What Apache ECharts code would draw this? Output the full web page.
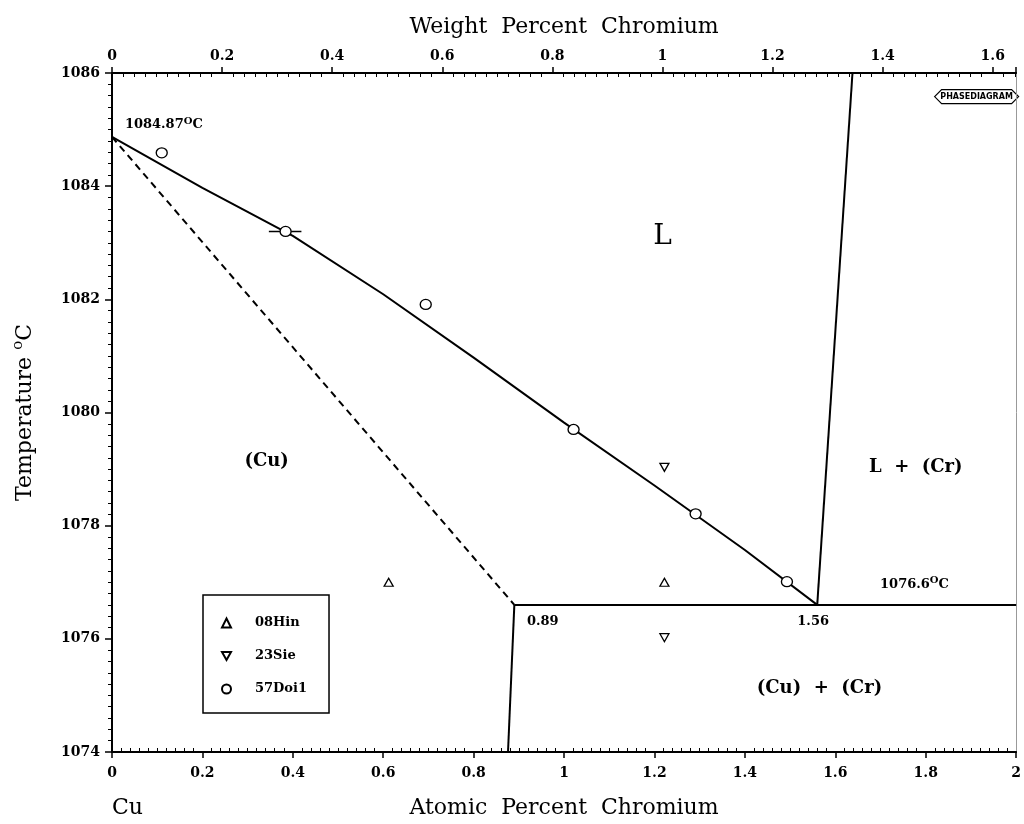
<!DOCTYPE html>
<html>
<head>
<meta charset="utf-8">
<script src="https://cdn.jsdelivr.net/npm/echarts@6/dist/echarts.min.js"></script>
<style>
  html, body { margin: 0; padding: 0; background: #fff; }
  #chart { width: 1024px; height: 824px; }
</style>
</head>
<body>
<div id="chart"></div>
<script>
// Cu-Cr phase diagram, Cu-rich corner: composition in at.% Cr (bottom) and wt.% Cr (top)

// Axis ranges
const atomicRange = [0, 2];
const weightRange = [0, 1.6425];   // wt.% Cr equivalent of 0..2 at.% Cr
const tempRange = [1074, 1086];

// Phase boundaries [at.% Cr, temperature °C]
const liquidusCu = [
  [0, 1084.87], [0.2, 1083.97], [0.4, 1083.12], [0.6, 1082.09], [0.8, 1080.97],
  [1.0, 1079.82], [1.2, 1078.71], [1.4, 1077.57], [1.56, 1076.6]
];
const solidusCu = [[0, 1084.87], [0.89, 1076.6]];
const eutecticLine = [[0.89, 1076.6], [2, 1076.6]];
const solvusCu = [[0.89, 1076.6], [0.876, 1074]];
const liquidusCr = [[1.56, 1076.6], [1.638, 1086]];

// Experimental points
const hin08 = [[0.612, 1077.0], [1.222, 1077.0]];
const sie23 = [[1.222, 1079.03], [1.222, 1076.02]];
const doi57 = [[0.110, 1084.59], [0.384, 1083.2], [0.694, 1081.91], [1.021, 1079.70], [1.291, 1078.21], [1.493, 1077.01]];
const doi57Range = [[0.347, 1083.2], [0.419, 1083.2]];

// Annotations: text and anchor in data coordinates
const annotations = [
  { text: '{a|1084.87}{s|O}{a|C}', at: [0.0285, 1085.08], align: 'left', style: 'small' },
  { text: 'L', at: [1.218, 1083.1], align: 'center', style: 'phaseBig' },
  { text: '(Cu)', at: [0.342, 1079.13], align: 'center', style: 'phase' },
  { text: 'L  +  (Cr)', at: [1.778, 1079.03], align: 'center', style: 'phase' },
  { text: '{a|1076.6}{s|O}{a|C}', at: [1.699, 1076.96], align: 'left', style: 'small' },
  { text: '0.89', at: [0.918, 1076.31], align: 'left', style: 'small' },
  { text: '1.56', at: [1.551, 1076.31], align: 'center', style: 'small' },
  { text: '(Cu)  +  (Cr)', at: [1.565, 1075.13], align: 'center', style: 'phase' }
];

const SERIF = 'DejaVu Serif';
const INK = '#000';

const textStyles = {
  small: { fontFamily: SERIF, fontSize: 13, fontWeight: 'bold', color: INK },
  phase: { fontFamily: SERIF, fontSize: 18, fontWeight: 'bold', color: INK },
  phaseBig: { fontFamily: SERIF, fontSize: 28, color: INK }
};
const supRich = {
  a: { fontFamily: SERIF, fontSize: 13, fontWeight: 'bold', color: INK, lineHeight: 18 },
  s: { fontFamily: SERIF, fontSize: 10, fontWeight: 'bold', color: INK, verticalAlign: 'top', lineHeight: 9 }
};

function boundary(data, dashed) {
  return {
    type: 'line', data: data, symbol: 'none', silent: true,
    lineStyle: { color: INK, width: 2, type: dashed ? [7, 5] : 'solid' },
    z: 3
  };
}

const hollow = { color: '#fff', borderColor: INK, borderWidth: 1.3, opacity: 1 };

const chart = echarts.init(document.getElementById('chart'), null, { renderer: 'canvas' });

const axisLabelStyle = { fontFamily: SERIF, fontSize: 14, fontWeight: 'bold', color: INK };
const plainNumber = function (v) { return String(v); };

chart.setOption({
  animation: false,
  backgroundColor: '#fff',
  grid: { left: 112, right: 1, top: 73, bottom: 61, containLabel: false },
  legend: {
    data: ['08Hin', '23Sie', '57Doi1'],
    orient: 'vertical', left: 203, top: 595,
    padding: [21, 22, 17, 18], itemGap: 19, itemWidth: 9, itemHeight: 9,
    borderColor: INK, borderWidth: 1.5, borderRadius: 0,
    selectedMode: false,
    textStyle: { fontFamily: SERIF, fontSize: 13, fontWeight: 'bold', color: INK, padding: [0, 0, 0, 19], lineHeight: 14 }
  },
  xAxis: [
    {
      type: 'value', position: 'bottom', min: atomicRange[0], max: atomicRange[1], interval: 0.2,
      name: 'Atomic  Percent  Chromium', nameLocation: 'middle', nameGap: 45,
      nameTextStyle: { fontFamily: SERIF, fontSize: 22, color: INK },
      axisLine: { show: true, onZero: false, lineStyle: { color: INK, width: 2 } },
      axisTick: { show: true, length: 6, lineStyle: { color: INK, width: 1.5 } },
      minorTick: { show: true, splitNumber: 10, length: -4, lineStyle: { color: INK, width: 1 } },
      axisLabel: Object.assign({ margin: 14, formatter: plainNumber }, axisLabelStyle),
      splitLine: { show: false }, minorSplitLine: { show: false }
    },
    {
      type: 'value', position: 'top', min: weightRange[0], max: weightRange[1], interval: 0.2,
      name: 'Weight  Percent  Chromium', nameLocation: 'middle', nameGap: 35,
      nameTextStyle: { fontFamily: SERIF, fontSize: 22, color: INK },
      axisLine: { show: true, onZero: false, lineStyle: { color: INK, width: 2 } },
      axisTick: { show: true, length: 6, lineStyle: { color: INK, width: 1.5 } },
      minorTick: { show: true, splitNumber: 10, length: -4, lineStyle: { color: INK, width: 1 } },
      axisLabel: Object.assign({ margin: 10, showMaxLabel: false, formatter: plainNumber }, axisLabelStyle),
      splitLine: { show: false }, minorSplitLine: { show: false }
    }
  ],
  yAxis: [
    {
      type: 'value', position: 'left', min: tempRange[0], max: tempRange[1], interval: 2,
      name: '{n|Temperature }{s|o}{n|C}', nameLocation: 'middle', nameGap: 73, nameRotate: 90,
      nameTextStyle: {
        rich: {
          n: { fontFamily: SERIF, fontSize: 22, color: INK, lineHeight: 28 },
          s: { fontFamily: SERIF, fontSize: 15, color: INK, verticalAlign: 'top', lineHeight: 14 }
        }
      },
      axisLine: { show: true, onZero: false, lineStyle: { color: INK, width: 2 } },
      axisTick: { show: true, length: 7, lineStyle: { color: INK, width: 1.5 } },
      minorTick: { show: true, splitNumber: 10, length: 4, lineStyle: { color: INK, width: 1 } },
      axisLabel: Object.assign({ margin: 12, formatter: plainNumber }, axisLabelStyle),
      splitLine: { show: false }, minorSplitLine: { show: false }
    },
    {
      type: 'value', position: 'right', min: tempRange[0], max: tempRange[1],
      axisLine: { show: true, onZero: false, lineStyle: { color: '#999', width: 1 } },
      axisTick: { show: false }, axisLabel: { show: false },
      splitLine: { show: false }
    }
  ],
  series: [
    boundary(liquidusCu, false),
    boundary(solidusCu, true),
    boundary(eutecticLine, false),
    boundary(solvusCu, false),
    boundary(liquidusCr, false),
    {
      type: 'line', data: doi57Range, symbol: 'none', silent: true,
      lineStyle: { color: INK, width: 1.5 }, z: 3
    },
    {
      name: '08Hin', type: 'scatter', data: hin08, symbol: 'triangle', symbolSize: [9, 8],
      itemStyle: hollow, z: 4
    },
    {
      name: '23Sie', type: 'scatter', data: sie23, symbol: 'path://M0,0L10,0L5,9Z', symbolSize: [9, 8],
      itemStyle: hollow, z: 4
    },
    {
      name: '57Doi1', type: 'scatter', data: doi57, symbol: 'circle', symbolSize: [11, 10],
      itemStyle: hollow, z: 4
    },
    {
      type: 'scatter', silent: true, symbolSize: 0, z: 5,
      itemStyle: { opacity: 1 },
      data: annotations.map(function (a) {
        const base = textStyles[a.style];
        return {
          value: a.at,
          label: Object.assign({
            show: true, position: [0, 0], formatter: a.text, opacity: 1,
            align: a.align, verticalAlign: 'middle', rich: supRich
          }, base)
        };
      })
    }
  ],
  graphic: [
    {
      type: 'text', left: 112, top: 797,
      style: { text: 'Cu', fontFamily: SERIF, fontSize: 22, fill: INK }
    },
    {
      type: 'group', left: 934, top: 89,
      children: [
        {
          type: 'polygon',
          shape: { points: [[0, 7], [7, 0], [77, 0], [84, 7], [77, 14], [7, 14]] },
          style: { fill: '#fff', stroke: INK, lineWidth: 1.2 }
        },
        {
          type: 'text', x: 42, y: 7,
          style: {
            text: 'PHASEDIAGRAM', fontFamily: 'DejaVu Sans', fontWeight: 'bold', fontSize: 8,
            fill: INK, align: 'center', verticalAlign: 'middle'
          }
        }
      ]
    }
  ]
});
</script>
</body>
</html>
